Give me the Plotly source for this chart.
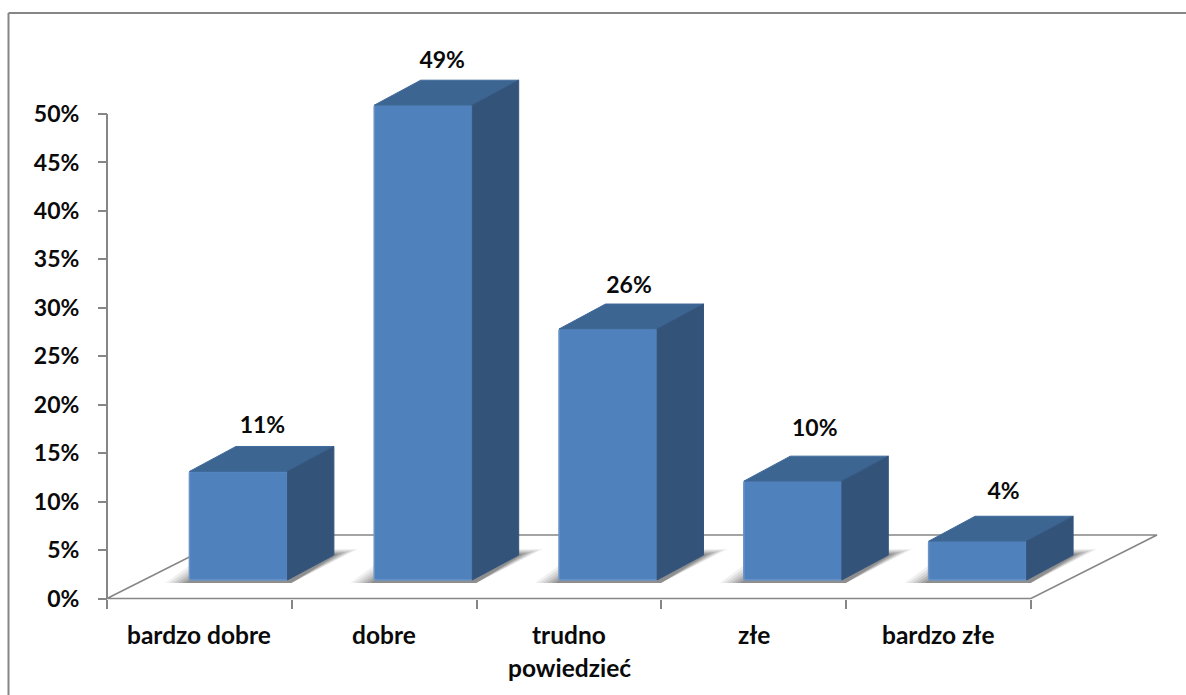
import plotly.graph_objects as go

categories = ["bardzo dobre", "dobre", "trudno\npowiedzieć", "złe", "bardzo złe"]
values = [11.2, 49.0, 25.9, 10.2, 4.0]
labels = ["11%", "49%", "26%", "10%", "4%"]
y_ticks = [0, 5, 10, 15, 20, 25, 30, 35, 40, 45, 50]
y_tick_text = [f"{v}%" for v in y_ticks]

W, H = 1186, 695
PX_CAT = 184.8
PX_PCT = 9.69
X0, Y0 = 107.0, 598.5
FONT = "Lato"
FS = 23
FS_CAT = 24.5
FC = "#0a0a0a"
AXIS = "#868686"


def dx(p):
    return p / PX_CAT


def dy(p):
    return p / PX_PCT


base = dy(18.5)
bar_w = dx(98)
depth_x, depth_y = dx(46.5), dy(25)
centers = [i + 0.5 + dx(39) for i in range(len(values))]
label_dx = [24, 19, 21, 22, 26]
label_dy = [19, 18, 17, 26, 23]

shapes = []
# outer frame
shapes.append(dict(type="line", xref="paper", yref="paper", x0=8.5 / W, x1=1, y0=1 - 13 / H, y1=1 - 13 / H,
                   line=dict(color=AXIS, width=2)))
shapes.append(dict(type="line", xref="paper", yref="paper", x0=8.5 / W, x1=8.5 / W, y0=0, y1=1 - 13 / H,
                   line=dict(color=AXIS, width=2)))
# floor
fx = [0, 5, 5 + dx(126), dx(126), 0]
fy = [0, 0, dy(63.5), dy(63.5), 0]
shapes.append(dict(type="path", layer="below",
                   path="M" + " L".join(f"{a},{b}" for a, b in zip(fx, fy)),
                   line=dict(color=AXIS, width=1.6)))
# soft shadows on the floor
for grow, alpha in [(24, 0.08), (20, 0.10), (16, 0.12), (12, 0.15), (8, 0.18), (4, 0.22)]:
    for c in centers:
        l, r = c - bar_w / 2, c + bar_w / 2
        e = dx(grow)
        pts = [(l - e, base - dy(3)), (r + dx(4), base - dy(3)),
               (r + depth_x + e, base + depth_y + dy(grow * 0.25)),
               (l + depth_x - e, base + depth_y + dy(grow * 0.25))]
        shapes.append(dict(type="path", layer="below",
                           path="M" + " L".join(f"{a},{b}" for a, b in pts) + " Z",
                           fillcolor=f"rgba(70,70,70,{alpha})", line=dict(width=0)))

fig = go.Figure()
fig.add_trace(go.Scatter(x=[0, 0], y=[0, 50], mode="lines", line=dict(color=AXIS, width=2), hoverinfo="skip"))
fig.add_trace(go.Bar(x=centers, y=values, base=[base] * len(values), width=bar_w,
                     marker=dict(color="#4F81BD", line=dict(color="#6A94C8", width=1.5), cornerradius=2)))
for c, v in zip(centers, values):
    l, r = c - bar_w / 2, c + bar_w / 2
    t = base + v
    fig.add_trace(go.Scatter(x=[l, r, r + depth_x, l + depth_x, l], y=[t, t, t + depth_y, t + depth_y, t],
                             mode="lines", fill="toself", fillcolor="#3C6592",
                             line=dict(color="#3F6A9C", width=1), hoverinfo="skip"))
    fig.add_trace(go.Scatter(x=[r, r + depth_x, r + depth_x, r, r], y=[t, t + depth_y, base + depth_y, base, t],
                             mode="lines", fill="toself", fillcolor="#335379",
                             line=dict(color="#345680", width=1), hoverinfo="skip"))
fig.add_trace(go.Scatter(
    x=[c + dx(d) for c, d in zip(centers, label_dx)],
    y=[base + v + depth_y + dy(d) for v, d in zip(values, label_dy)],
    mode="text", text=labels, textposition="middle center",
    textfont=dict(family=FONT, size=FS, color=FC, weight="bold"), hoverinfo="skip"))

annotations = []
for i, cat in enumerate(categories):
    for j, line in enumerate(cat.split("\n")):
        annotations.append(dict(x=i + 0.5, y=-dy(36 + 33 * j), text=f"<b>{line}</b>", showarrow=False,
                                xanchor="center", yanchor="middle",
                                font=dict(family=FONT, size=FS_CAT, color=FC)))

fig.update_layout(
    width=W, height=H, margin=dict(l=0, r=0, t=0, b=0, pad=0),
    paper_bgcolor="white", plot_bgcolor="white", showlegend=False,
    shapes=shapes, annotations=annotations,
    xaxis=dict(range=[-dx(X0), dx(W - X0)], domain=[0, 1], anchor="free", position=(H - Y0) / H,
               tickmode="array", tickvals=list(range(6)), ticktext=[""] * 6, ticks="outside",
               ticklen=9, tickwidth=2, tickcolor=AXIS, showgrid=False, zeroline=False, showline=False),
    yaxis=dict(range=[-dy(H - Y0), dy(Y0)], domain=[0, 1], anchor="free", position=X0 / W,
               tickmode="array", tickvals=y_ticks, ticktext=y_tick_text, ticks="outside",
               ticklen=9, tickwidth=2, tickcolor=AXIS, showgrid=False, zeroline=False, showline=False,
               ticklabelstandoff=14,
               tickfont=dict(family=FONT, size=FS, color=FC, weight="bold")),
)
fig.write_html("out.html", config={"displayModeBar": False}, post_script="document.body.style.margin='0';")
